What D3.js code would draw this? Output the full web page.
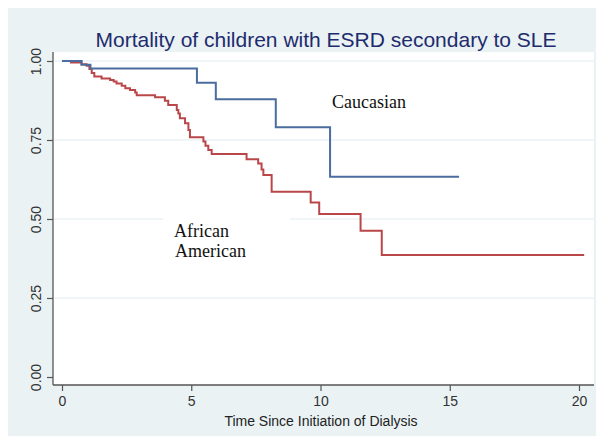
<!DOCTYPE html>
<html>
<head>
<meta charset="utf-8">
<script src="https://cdn.jsdelivr.net/npm/d3@7"></script>
<style>
  body { margin: 0; background: #fff; }
  svg { display: block; }
</style>
</head>
<body>
<div id="chart"></div>
<script>
// Kaplan-Meier estimates
const timeTicks = [0, 5, 10, 15, 20];
const survTicks = [0, 0.25, 0.5, 0.75, 1];

const caucasianTime = [0, 0.76, 1.1, 5.22, 5.95, 8.27, 10.37, 15.36];
const caucasianSurv = [1, 0.988, 0.976, 0.931, 0.879, 0.79, 0.634, 0.634];

const africanTime = [0, 0.35, 0.75, 0.95, 1.06, 1.15, 1.25, 1.53, 1.86, 2.0, 2.11, 2.31, 2.45, 2.63, 2.83, 2.89,
  3.6, 3.98, 4.11, 4.44, 4.5, 4.56, 4.76, 4.89, 4.95, 5.47, 5.55, 5.66, 5.79,
  7.14, 7.59, 7.72, 7.79, 8.11, 9.62, 9.95, 11.55, 12.37, 20.2];
const africanSurv = [1, 0.995, 0.99, 0.985, 0.975, 0.962, 0.951, 0.945, 0.94, 0.935, 0.929, 0.922, 0.914, 0.908, 0.9, 0.892,
  0.885, 0.874, 0.861, 0.845, 0.834, 0.819, 0.803, 0.782, 0.759, 0.745, 0.732, 0.718, 0.706,
  0.689, 0.676, 0.657, 0.639, 0.586, 0.552, 0.516, 0.463, 0.386, 0.386];

const W = 604, H = 442;
const plot = { left: 53, right: 594, top: 52, bottom: 385 };

const svg = d3.select("#chart").append("svg")
    .attr("width", W)
    .attr("height", H);

// outer graph region
svg.append("rect")
    .attr("x", 8).attr("y", 8)
    .attr("width", 588).attr("height", 428)
    .attr("fill", "#eaf2f4");

// plot region
svg.append("rect")
    .attr("x", plot.left).attr("y", plot.top)
    .attr("width", plot.right - plot.left).attr("height", plot.bottom - plot.top)
    .attr("fill", "#fff");

const x = d3.scaleLinear().domain([0, 20]).range([62, 579]);
const y = d3.scaleLinear().domain([0, 1]).range([377, 61]);

// grid lines
svg.append("g")
  .selectAll("line")
  .data(survTicks.filter(d => d > 0))
  .enter().append("line")
    .attr("x1", plot.left + 1).attr("x2", plot.right)
    .attr("y1", d => y(d)).attr("y2", d => y(d))
    .attr("stroke", "#e2edf1")
    .attr("stroke-width", 1.2);

// axes
const xAxis = d3.axisBottom(x).tickValues(timeTicks).tickSize(6).tickPadding(5).tickSizeOuter(0);
const yAxis = d3.axisLeft(y).tickValues(survTicks).tickSize(6).tickFormat(d3.format(".2f")).tickSizeOuter(0);

const gx = svg.append("g")
    .attr("transform", "translate(0," + plot.bottom + ")")
    .call(xAxis);
gx.select(".domain").remove();
gx.append("line")
    .attr("x1", plot.left).attr("x2", plot.right)
    .attr("stroke", "#555").attr("stroke-width", 1.3);

const gy = svg.append("g")
    .attr("transform", "translate(" + plot.left + ",0)")
    .call(yAxis);
gy.select(".domain").remove();
gy.append("line")
    .attr("y1", plot.top).attr("y2", plot.bottom)
    .attr("stroke", "#555").attr("stroke-width", 1.3);

svg.selectAll(".tick line").attr("stroke", "#555").attr("stroke-width", 1.2);
svg.selectAll(".tick text")
    .style("font-family", "'Liberation Sans', Arial, sans-serif")
    .style("font-size", "14px")
    .attr("fill", "#333");

// rotate y labels
gy.selectAll(".tick text")
    .attr("x", null).attr("dy", null)
    .attr("transform", "translate(-12,0) rotate(-90)")
    .attr("text-anchor", "middle")
    .attr("y", 0);

// annotation box hides grid behind text
svg.append("rect")
    .attr("x", 163).attr("y", 212)
    .attr("width", 127).attr("height", 52)
    .attr("fill", "#fff");

// survival curves
const step = d3.line()
    .x(d => x(d[0]))
    .y(d => y(d[1]))
    .curve(d3.curveStepAfter);

svg.append("path")
    .datum(d3.zip(africanTime, africanSurv))
    .attr("fill", "none")
    .attr("stroke", "#b9474a")
    .attr("stroke-width", 2)
    .attr("d", step);

svg.append("path")
    .datum(d3.zip(caucasianTime, caucasianSurv))
    .attr("fill", "none")
    .attr("stroke", "#4b6c9e")
    .attr("stroke-width", 2)
    .attr("d", step);

// title
svg.append("text")
    .attr("x", 326)
    .attr("y", 47)
    .attr("text-anchor", "middle")
    .style("font-family", "'Liberation Sans', Arial, sans-serif")
    .style("font-size", "21px")
    .attr("fill", "#1e2c6e")
    .text("Mortality of children with ESRD secondary to SLE");

// x axis title
svg.append("text")
    .attr("x", 321)
    .attr("y", 426)
    .attr("text-anchor", "middle")
    .style("font-family", "'Liberation Sans', Arial, sans-serif")
    .style("font-size", "14px")
    .attr("fill", "#222")
    .text("Time Since Initiation of Dialysis");

// group labels
const serif = "'Liberation Serif', 'Times New Roman', serif";
svg.append("text")
    .attr("x", 332).attr("y", 108)
    .style("font-family", serif).style("font-size", "18px")
    .attr("fill", "#111")
    .text("Caucasian");

svg.append("text")
    .attr("x", 174).attr("y", 237)
    .style("font-family", serif).style("font-size", "18px")
    .attr("fill", "#111")
    .text("African");

svg.append("text")
    .attr("x", 175).attr("y", 257)
    .style("font-family", serif).style("font-size", "18px")
    .attr("fill", "#111")
    .text("American");
</script>
</body>
</html>
